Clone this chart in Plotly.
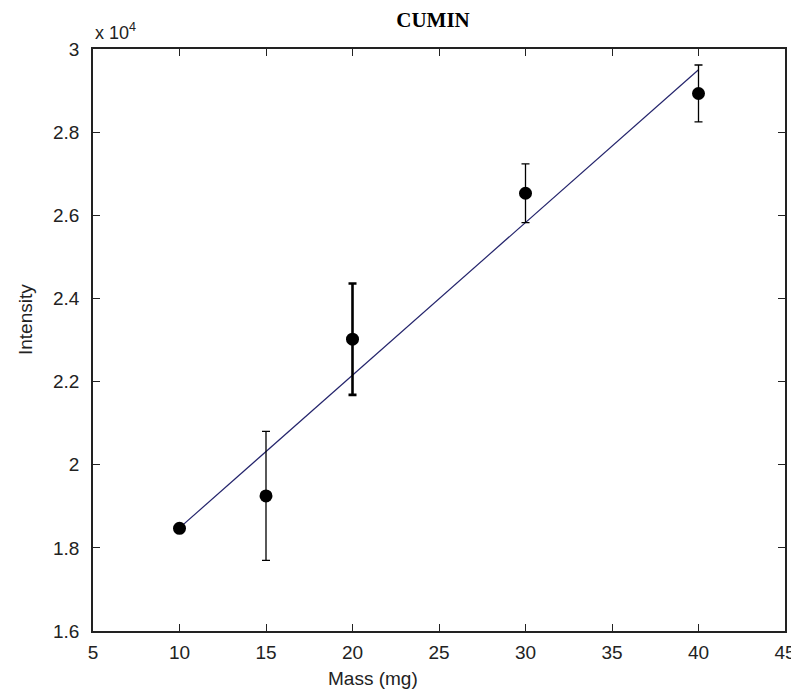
import plotly.graph_objects as go

# Data (intensity in counts; axis shows x10^4)
mass_mg = [10, 15, 20, 30, 40]
intensity = [18470, 19250, 23020, 26530, 28930]
intensity_err = [60, 1550, 1340, 705, 685]

fit_x = [10, 40]
fit_y = [18480, 29500]

x_ticks = [5, 10, 15, 20, 25, 30, 35, 40, 45]
y_tickvals = [16000, 18000, 20000, 22000, 24000, 26000, 28000, 30000]
y_ticktext = ["1.6", "1.8", "2", "2.2", "2.4", "2.6", "2.8", "3"]

err_thickness = [1.3, 1.3, 2.6, 1.3, 1.3]

fig = go.Figure()

fig.add_trace(go.Scatter(
    x=fit_x, y=fit_y, mode="lines",
    line=dict(color="#23236b", width=1.2),
    showlegend=False, hoverinfo="skip"))

for xv, yv, ev, th in zip(mass_mg, intensity, intensity_err, err_thickness):
    fig.add_trace(go.Scatter(
        x=[xv], y=[yv], mode="markers",
        marker=dict(color="black", size=13, symbol="circle"),
        error_y=dict(type="data", array=[ev], visible=True,
                     color="black", thickness=th, width=4),
        showlegend=False))

tick_font = dict(family="Liberation Sans, Arial, sans-serif", size=19, color="#222222")
label_font = dict(family="Liberation Sans, Arial, sans-serif", size=19, color="#222222")

# page body has an 8px margin, so figure coordinates are offset by 8px
W, H = 791, 685
fig.update_layout(
    width=W, height=H,
    paper_bgcolor="white", plot_bgcolor="white",
    margin=dict(l=85, r=14, t=41, b=62, autoexpand=False),
    title=dict(text="<b>CUMIN</b>", x=425 / W, xanchor="center",
               y=1 - 12 / H, yanchor="middle",
               font=dict(family="Liberation Serif, Times New Roman, serif", size=21, color="black")),
    xaxis=dict(range=[5, 45], tickvals=x_ticks, ticks="inside", ticklen=7,
               tickcolor="#222222", showline=True, linecolor="#222222", linewidth=1.5,
               mirror="ticks", showgrid=False, zeroline=False, tickfont=tick_font,
               ticklabelstandoff=3, automargin=False),
    yaxis=dict(range=[16000, 30000], tickvals=y_tickvals, ticktext=y_ticktext,
               ticks="inside", ticklen=7, tickcolor="#222222", showline=True,
               linecolor="#222222", linewidth=1.5, mirror="ticks", showgrid=False,
               zeroline=False, tickfont=tick_font, ticklabelstandoff=8, automargin=False),
)

fig.add_annotation(text="Mass (mg)", xref="paper", yref="paper",
                   x=(373 - 93) / 692, y=-(678 - 631) / 582, xanchor="center", yanchor="middle",
                   showarrow=False, font=label_font)
fig.add_annotation(text="Intensity", xref="paper", yref="paper",
                   x=-(93 - 25) / 692, y=(631 - 320) / 582, xanchor="center", yanchor="middle",
                   textangle=-90, showarrow=False, font=label_font)
fig.add_annotation(text="x 10<sup>4</sup>", xref="paper", yref="paper",
                   x=0, y=(631 - 31) / 582, xanchor="left", yanchor="middle",
                   showarrow=False,
                   font=dict(family="Liberation Sans, Arial, sans-serif", size=18, color="#222222"))

fig.write_html("out.html")
